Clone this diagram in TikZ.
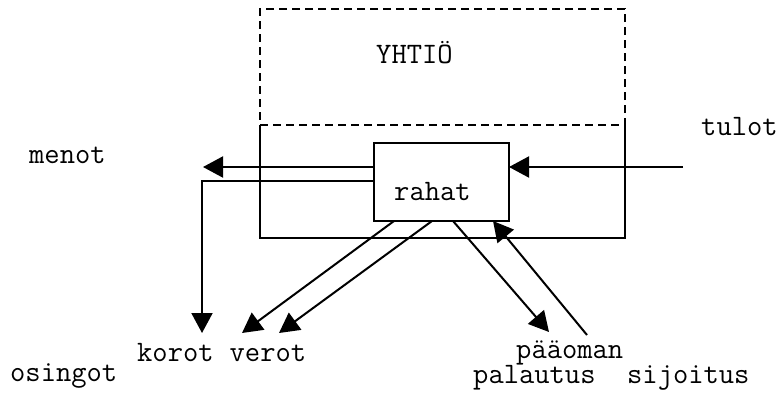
\documentclass[tikz,border=0pt]{standalone}
\usepackage{fontspec}
\usetikzlibrary{arrows.meta,positioning}
\tikzstyle{lbl}=[inner sep=0pt,anchor=base west,text height=13pt,text depth=3pt,font=\ttfamily\fontsize{29.7}{32}\selectfont]
\tikzstyle{box}=[rectangle,draw,line width=2pt,outer sep=0pt]
\tikzstyle{wall}=[line width=2pt]
\tikzstyle{arr}=[-{Triangle[length=20pt,width=21pt]},line width=2pt]

\begin{document}
\begin{tikzpicture}[x=1pt,y=-1pt]
\useasboundingbox (0,0) rectangle (781,394);
% yhtio and its cash box
\node[box, dash pattern=on 8pt off 5pt, minimum width=365pt, minimum height=116pt] (yhtio) at (442.5,67) {};
\node[box, draw=none, minimum width=365pt, minimum height=113pt, below=0pt of yhtio] (kassa) {};
\node[box, minimum width=135pt, minimum height=78pt] (rahat) at (441.5,182) {};
\node[lbl] (yhtioteksti) at (376,63) {YHTIÖ};
\node[lbl] (rahatteksti) at (394,200) {rahat};
\draw[wall] (kassa.north west) -- (kassa.south west) -- (kassa.south east) -- (kassa.north east);
% labels
\node[lbl] (menot) at (29,163) {menot};
\node[lbl] (tulot) at (701,135) {tulot};
\node[lbl] (korot) at (137,361) {korot};
\node[lbl, right=15.6pt of korot] (verot) {verot};
\node[lbl] (osingot) at (10,381) {osingot};
\node[lbl] (paaoman) at (516,358) {pääoman};
\node[lbl] (palautus) at (473,383) {palautus};
\node[lbl, right=31.2pt of palautus] (sijoitus) {sijoitus};
% ends of the flows
\coordinate (menotkarki) at (203,167);
\coordinate (osingotkulma) at (202,181);
\coordinate (osingotkarki) at (202,333);
\coordinate (tulotalku) at (683,167);
\coordinate (korotkarki) at (242,333);
\coordinate (verotkarki) at (279,333);
\coordinate (palautuskarki) at (549,332);
\coordinate (sijoitusalku) at (587,335);
% flows
\draw[arr] (rahat.west |- menotkarki) -- (menotkarki);
\draw[arr] (rahat.west |- osingotkulma) -- (osingotkulma) -- (osingotkarki);
\draw[arr] (tulotalku) -- (rahat.east |- tulotalku);
\draw[arr] ([xshift=20pt]rahat.south west) -- (korotkarki);
\draw[arr] ([xshift=58pt]rahat.south west) -- (verotkarki);
\draw[arr] ([xshift=79pt]rahat.south west) -- (palautuskarki);
\draw[arr] (sijoitusalku) -- ([xshift=119pt]rahat.south west);
\end{tikzpicture}
\end{document}
